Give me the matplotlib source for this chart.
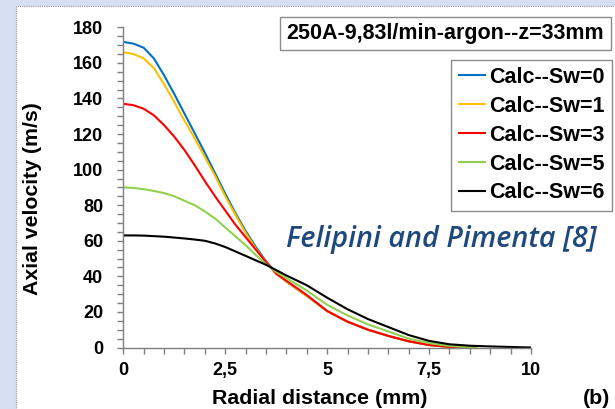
import matplotlib.pyplot as plt
from matplotlib.patches import Rectangle
from matplotlib.ticker import MultipleLocator, FuncFormatter

# Radial distance (mm)
r = [0, 0.25, 0.5, 0.75, 1.0, 1.25, 1.5, 1.75, 2.0, 2.25, 2.5, 2.75, 3.0,
     3.25, 3.5, 3.75, 4.0, 4.5, 5.0, 5.5, 6.0, 6.5, 7.0, 7.5, 8.0, 8.5, 8.7]
r6 = [0, 0.25, 0.5, 0.75, 1.0, 1.25, 1.5, 1.75, 2.0, 2.25, 2.5, 2.75, 3.0,
      3.25, 3.5, 3.75, 4.0, 4.5, 5.0, 5.5, 6.0, 6.5, 7.0, 7.5, 8.0, 8.5,
      9.0, 9.5, 10.0]

# Axial velocity (m/s)
sw0 = [171.8, 170.8, 168.5, 162.5, 153, 142.5, 131.5, 120.5, 109.5, 98, 86.5, 75.5, 65.5,
       56.5, 48.5, 42, 37, 29, 20.5, 14.5, 10, 6.5, 3.5, 1.4, 0.3, 0, 0]
sw1 = [166, 165, 162.5, 157, 148, 138, 127.5, 117.5, 107, 96.5, 85, 74.5, 64.5,
       55.5, 48, 41.5, 37, 29, 20.5, 14.5, 10, 6.5, 3.5, 1.4, 0.3, 0, 0]
sw3 = [137, 136.2, 134.2, 130.5, 125, 118.5, 111, 102.5, 93.5, 85, 77, 69, 62,
       55, 48, 41.5, 37.5, 29.5, 20.5, 14.5, 10, 6.5, 3.5, 1.4, 0.3, 0, 0]
sw5 = [90, 89.7, 89, 88, 86.8, 85, 82.5, 80, 76.5, 72.5, 67.5, 62.5, 57.5,
       52, 46.8, 42.5, 39, 32, 24, 18, 13, 9, 5, 2.5, 0.9, 0.1, 0]
sw6 = [63, 63, 62.9, 62.6, 62.3, 61.8, 61.3, 60.7, 60, 58.5, 56.5, 54, 51.5,
       49, 46.5, 43.5, 40.5, 35, 28, 21.5, 16, 11.5, 7, 3.7, 1.8, 1.0,
       0.6, 0.3, 0]

labels = ["Calc--Sw=0", "Calc--Sw=1", "Calc--Sw=3", "Calc--Sw=5", "Calc--Sw=6"]
colors = ["#0070C0", "#FFC000", "#FF0000", "#92D050", "#000000"]

W, H = 615, 409
fig = plt.figure(figsize=(6.15, 4.09), dpi=100)
fig.patch.set_facecolor("#D6E0F2")
fig.patches.append(Rectangle((16 / W, -0.1), 1.2, 1.1 - 6 / H, transform=fig.transFigure,
                             facecolor="white", edgecolor="#9A9A9A", lw=0.8,
                             linestyle=(0, (1, 1)), zorder=-5))

ax = fig.add_axes([123.3 / W, 1 - 347.5 / H, (531 - 123.3) / W, (347.5 - 27.3) / H])
ax.set_facecolor("none")
ax.set_zorder(2)

xs = [r, r, r, r, r6]
ys = [sw0, sw1, sw3, sw5, sw6]
lines = []
for x, y, c, lab in zip(xs, ys, colors, labels):
    ln, = ax.plot(x, y, color=c, lw=1.5, label=lab, solid_capstyle="butt",
                  solid_joinstyle="round", clip_on=False)
    lines.append(ln)

ax.set_xlim(0, 10)
ax.set_ylim(0, 180)
for s in ["top", "right"]:
    ax.spines[s].set_visible(False)
for s in ["left", "bottom"]:
    ax.spines[s].set_color("#7F7F7F")
    ax.spines[s].set_linewidth(1.0)

ax.xaxis.set_major_locator(MultipleLocator(2.5))
ax.xaxis.set_minor_locator(MultipleLocator(0.5))
ax.yaxis.set_major_locator(MultipleLocator(20))
ax.yaxis.set_minor_locator(MultipleLocator(5))
ax.xaxis.set_major_formatter(FuncFormatter(lambda v, p: ("%g" % v).replace(".", ",")))
ax.tick_params(which="both", direction="out", length=4.5, width=1.0, color="#7F7F7F")
ax.tick_params(axis="y", which="major", pad=10)
ax.tick_params(axis="x", which="major", pad=6)
for t in ax.get_xticklabels() + ax.get_yticklabels():
    t.set_fontfamily("Liberation Sans")
    t.set_fontweight("bold")
    t.set_fontsize(13)

fig.text(33 / W, 1 - 199 / H, "Axial velocity (m/s)", rotation=90, ha="center", va="center",
         family="Liberation Sans", weight="bold", fontsize=15.3)
fig.text(319.5 / W, 1 - 398 / H, "Radial distance (mm)", ha="center", va="center",
         family="Liberation Sans", weight="bold", fontsize=15.4)
fig.text(597 / W, 1 - 398 / H, "(b)", ha="center", va="center",
         family="Liberation Sans", weight="bold", fontsize=15.4)

fig.text(445.5 / W, 1 - 33.5 / H, "250A-9,83l/min-argon--z=33mm", ha="center", va="center",
         family="Liberation Sans", weight="bold", fontsize=15.5,
         bbox=dict(boxstyle="square,pad=0.3", facecolor="white", edgecolor="#8C8C8C", lw=1.0))

fig.text(441 / W, 1 - 239 / H, "Felipini and Pimenta [8]", ha="center", va="center",
         family="Open Sans", style="italic", weight="semibold", fontsize=20.7, color="#1F497D")

leg = fig.legend(handles=lines, loc="upper right", bbox_to_anchor=(611.5 / W, 1 - 59.5 / H),
                 prop=dict(family="Liberation Sans", weight="bold", size=15.5),
                 frameon=True, fancybox=False, framealpha=1, edgecolor="#8C8C8C",
                 handlelength=1.3, handletextpad=0.15, labelspacing=0.37,
                 borderpad=0.33, borderaxespad=0)
leg.get_frame().set_linewidth(1.0)

fig.savefig("out.png", dpi=100, facecolor=fig.get_facecolor())
